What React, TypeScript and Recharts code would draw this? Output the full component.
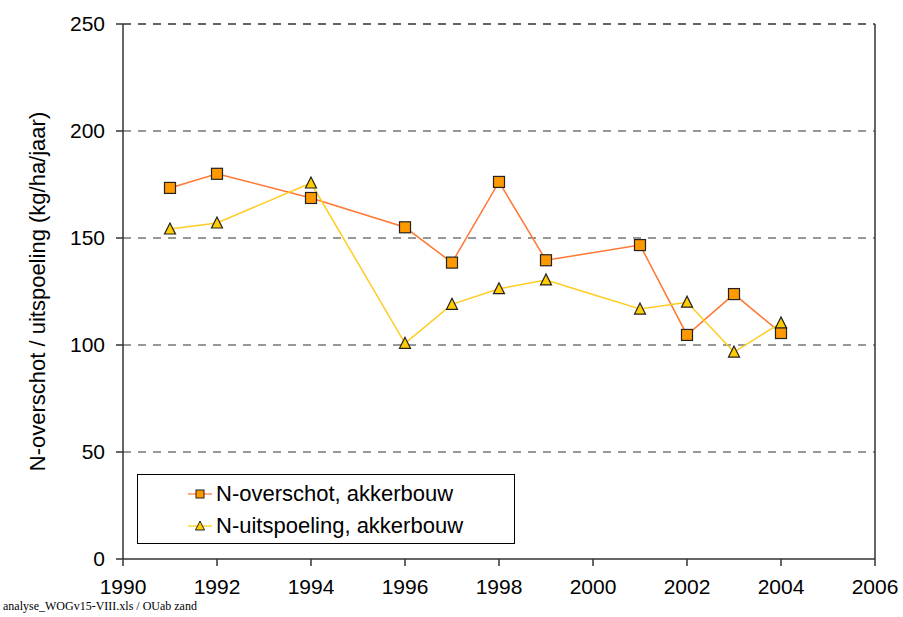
import React from "react";
import { CartesianGrid, Line, LineChart, ReferenceLine, XAxis, YAxis } from "recharts";

const overschotYears = [1991, 1992, 1994, 1996, 1997, 1998, 1999, 2001, 2002, 2003, 2004];
const overschotValues = [173.4, 180, 168.7, 155, 138.5, 176.2, 139.6, 146.7, 104.7, 123.8, 105.6];

const uitspoelingYears = [1991, 1992, 1994, 1996, 1997, 1998, 1999, 2001, 2002, 2003, 2004];
const uitspoelingValues = [154.2, 157, 175.7, 100.8, 119, 126.3, 130.4, 116.8, 120, 96.7, 110.3];

const xTicks = [1990, 1992, 1994, 1996, 1998, 2000, 2002, 2004, 2006];
const yTicks = [0, 50, 100, 150, 200, 250];

const overschot = overschotYears.map((year, i) => ({ year, value: overschotValues[i] }));
const uitspoeling = uitspoelingYears.map((year, i) => ({ year, value: uitspoelingValues[i] }));

const font = "'Liberation Sans', Arial, sans-serif";

function Square({ cx, cy }: any) {
  if (cx == null || cy == null) return null;
  return <rect x={cx - 5.5} y={cy - 5.5} width={11} height={11} fill="#FF9900" stroke="#222" strokeWidth={1.2} />;
}

function Triangle({ cx, cy }: any) {
  if (cx == null || cy == null) return null;
  return (
    <polygon
      points={`${cx},${cy - 6} ${cx - 5.5},${cy + 5} ${cx + 5.5},${cy + 5}`}
      fill="#FFCC00"
      stroke="#222"
      strokeWidth={1.2}
    />
  );
}

function LegendBox() {
  const row = (label: string, color: string, marker: React.ReactNode) => (
    <div style={{ display: "flex", alignItems: "center", height: 32 }}>
      <svg width={30} height={20}>
        <line x1={2} y1={10} x2={26} y2={10} stroke={color} strokeWidth={1.2} />
        {marker}
      </svg>
      <span>{label}</span>
    </div>
  );
  return (
    <div
      style={{
        position: "absolute",
        left: 137,
        top: 474,
        width: 378,
        height: 70,
        border: "1px solid #000",
        background: "#fff",
        fontFamily: font,
        fontSize: 22,
        color: "#000",
        boxSizing: "border-box",
        paddingLeft: 48,
        paddingTop: 3,
      }}
    >
      {row(
        "N-overschot, akkerbouw",
        "#FF7733",
        <rect x={10} y={6} width={8} height={8} fill="#FF9900" stroke="#222" strokeWidth={1} />
      )}
      {row(
        "N-uitspoeling, akkerbouw",
        "#FFCC00",
        <polygon points="14,5 9.5,14 18.5,14" fill="#FFCC00" stroke="#222" strokeWidth={1} />
      )}
    </div>
  );
}

export default function App() {
  return (
    <div style={{ position: "absolute", left: 0, top: 0, width: 903, height: 617, background: "#fff" }}>
      <LineChart width={903} height={617} margin={{ top: 24, right: 28, bottom: 0, left: 0 }}>
        <CartesianGrid
          horizontal
          vertical={false}
          stroke="#777"
          strokeWidth={1.5}
          strokeDasharray="8 7"
          horizontalValues={[50, 100, 150, 200]}
        />
        <ReferenceLine y={250} stroke="#333" strokeWidth={1.5} strokeDasharray="8 7" />
        <ReferenceLine x={2006} stroke="#333" strokeWidth={1.5} />
        <XAxis
          type="number"
          dataKey="year"
          domain={[1990, 2006]}
          ticks={xTicks}
          allowDuplicatedCategory={false}
          height={58}
          stroke="#333"
          strokeWidth={1.5}
          tickSize={7}
          tickMargin={13}
          tick={{ fill: "#000", fontSize: 21, fontFamily: font }}
        />
        <YAxis
          type="number"
          domain={[0, 250]}
          ticks={yTicks}
          width={123}
          stroke="#333"
          strokeWidth={1.5}
          tickSize={7}
          tickMargin={11}
          tick={{ fill: "#000", fontSize: 21, fontFamily: font }}
          label={{
            value: "N-overschot / uitspoeling (kg/ha/jaar)",
            angle: -90,
            position: "insideLeft",
            dx: 32,
            dy: 0,
            style: { textAnchor: "middle", fill: "#000", fontSize: 22, fontFamily: font },
          }}
        />
        <Line
          data={overschot}
          dataKey="value"
          name="N-overschot, akkerbouw"
          stroke="#FF7733"
          strokeWidth={1.5}
          dot={<Square />}
          activeDot={false}
          isAnimationActive={false}
        />
        <Line
          data={uitspoeling}
          dataKey="value"
          name="N-uitspoeling, akkerbouw"
          stroke="#FFCC22"
          strokeWidth={1.5}
          dot={<Triangle />}
          activeDot={false}
          isAnimationActive={false}
        />
      </LineChart>
      <LegendBox />
      <div
        style={{
          position: "absolute",
          left: 3,
          top: 600,
          lineHeight: "13px",
          fontFamily: "'Liberation Serif', 'Times New Roman', serif",
          fontSize: 12,
          color: "#000",
        }}
      >
        analyse_WOGv15-VIII.xls / OUab zand
      </div>
    </div>
  );
}
